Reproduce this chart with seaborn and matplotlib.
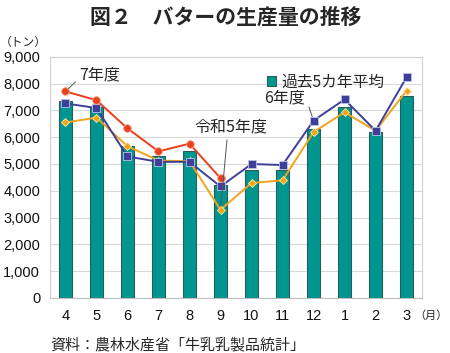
import matplotlib
matplotlib.use("Agg")
import matplotlib.pyplot as plt
import seaborn as sns
import pandas as pd
from matplotlib.ticker import FuncFormatter
from matplotlib.patches import Patch

months = ["4", "5", "6", "7", "8", "9", "10", "11", "12", "1", "2", "3"]
avg5 = [7340, 7130, 5660, 5310, 5470, 4200, 4760, 4780, 6320, 7130, 6200, 7530]
r7 = [7710, 7380, 6330, 5470, 5760, 4470]
r6 = [7260, 7090, 5280, 5080, 5080, 4160, 5000, 4960, 6620, 7410, 6240, 8240]
r5 = [6550, 6730, 5660, 5130, 5100, 3290, 4290, 4390, 6190, 6930, 6240, 7740]

sns.set_theme(style="white")
plt.rcParams["font.family"] = ["Noto Sans CJK JP", "DejaVu Sans"]

fig = plt.figure(figsize=(4.5, 3.53), dpi=100)
ax = fig.add_axes([0.111, 0.156, 0.827, 0.683])

df_bar = pd.DataFrame({"month": months, "value": avg5})
sns.barplot(data=df_bar, x="month", y="value", order=months, color="#00968F",
            saturation=1, width=0.4, edgecolor="#2C5C5A", linewidth=0.8, ax=ax, zorder=2)

def line(vals, color, marker, ms, mec):
    d = pd.DataFrame({"month": months[:len(vals)], "value": vals})
    sns.pointplot(data=d, x="month", y="value", order=months, color=color,
                  marker=marker, markersize=ms, markeredgecolor=mec, markeredgewidth=0.6,
                  linewidth=1.4, ax=ax, zorder=4)

line(r5, "#F0A41E", "D", 4.5, "#FFE9A0")
line(r6, "#3F3F9A", "s", 5.5, "#B8C4E8")
line(r7, "#E8401E", "o", 5.5, "#F7A080")

ax.set_xlim(-0.5, 11.5)
ax.set_ylim(0, 9000)
ax.set_yticks(range(0, 9001, 1000))
ax.yaxis.set_major_formatter(FuncFormatter(lambda v, p: f"{int(v):,}"))
ax.set_xlabel("")
ax.set_ylabel("")
ax.grid(axis="y", color="#D9D9D9", linewidth=0.8, zorder=0)
ax.set_axisbelow(True)
for s in ax.spines.values():
    s.set_color("#D0D0D0")
    s.set_linewidth(0.8)
ax.spines["bottom"].set_color("#BFBFBF")
ax.tick_params(axis="both", length=0, labelsize=10.5, colors="#111111")
ax.tick_params(axis="x", pad=8)
ax.tick_params(axis="y", pad=7)
for lab in ax.get_xticklabels() + ax.get_yticklabels():
    lab.set_family(["Liberation Sans", "DejaVu Sans"])

ax.legend(handles=[Patch(facecolor="#00968F", edgecolor="#2C5C5A", linewidth=0.8, label="過去5カ年平均")],
          loc="upper left", bbox_to_anchor=(0.545, 0.99), frameon=False,
          handlelength=0.6, handleheight=0.6, handletextpad=0.3, fontsize=11.3)

ap = dict(arrowstyle="-", color="#555555", linewidth=0.7, shrinkA=1, shrinkB=3)
ax.annotate("7年度", xy=(0, r7[0]), xytext=(0.46, 8340), ha="left", va="center", fontsize=11.5,
            arrowprops=dict(ap, relpos=(0, 0.3)), zorder=5)
ax.annotate("6年度", xy=(8, r6[8]), xytext=(7.73, 7480), ha="right", va="center", fontsize=11.5,
            arrowprops=dict(ap, relpos=(1, 0.6)), zorder=5)
ax.annotate("令和5年度", xy=(5, r5[5]), xytext=(5.34, 6390), ha="center", va="center", fontsize=11.5,
            arrowprops=dict(ap, relpos=(0.45, 0)), zorder=5)

fig.text(226 / 450, 1 - 17 / 353, "図２　バターの生産量の推移", ha="center", va="center",
         fontsize=15, fontweight="bold")
fig.text(23 / 450, 1 - 42 / 353, "（トン）", ha="center", va="center", fontsize=8.5)
fig.text(448 / 450, 1 - 316 / 353, "（月）", ha="right", va="center", fontsize=8)
fig.text(50 / 450, 1 - 345 / 353, "資料：農林水産省「牛乳乳製品統計」", ha="left", va="center", fontsize=10.8)

fig.savefig("out.png", dpi=100)
